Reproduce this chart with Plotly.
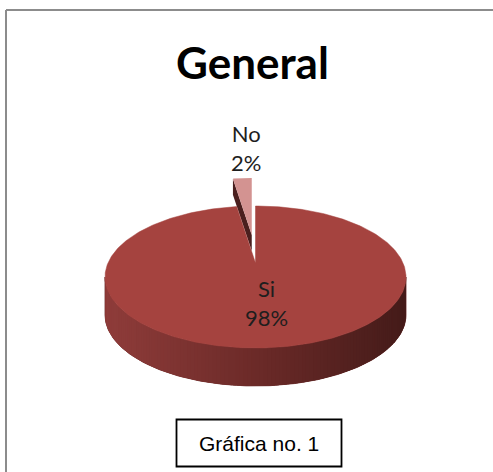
import numpy as np
import plotly.graph_objects as go

# Survey result: answer categories and their counts (percent)
labels = ["Si", "No"]
values = [98, 2]
title_text = "General"
caption_text = "Gráfica no. 1"

# Pie geometry in pixel space (3-D look: elliptical top face plus a side wall)
W, H = 493, 472
cx, cy = 255.5, 277.0      # centre of the top ellipse
a, b = 150.5, 71.0         # semi-axes of the top ellipse
depth = 38.0               # height of the side wall
apex_lift = 14.0           # perspective shift of the slice apex
explode = 0.394            # outward offset of the small slice (fraction of radius)
face_drop = 16.0           # visible drop of the exploded slice's cut face

top_colors = ["#A5433F", "#D39391"]
wall_left = np.array([143, 60, 58])
wall_mid = np.array([107, 42, 40])
wall_right = np.array([68, 27, 25])
cut_face_color = "#4A1F1E"
text_color = "#1E1E1E"

vals = np.array(values, dtype=float)
frac = vals / vals.sum()
ends = np.cumsum(frac) * 360.0
starts = ends - frac * 360.0
mids = (starts + ends) / 2.0


def rim(theta, ox=0.0, oy=0.0):
    t = np.radians(theta)
    return cx + ox + a * np.sin(t), cy + oy - b * np.cos(t)


def wall_color(x):
    t = np.clip((x - (cx - a)) / (2 * a), 0, 1)
    if t < 0.5:
        c = wall_left + (wall_mid - wall_left) * (t / 0.5)
    else:
        c = wall_mid + (wall_right - wall_mid) * ((t - 0.5) / 0.5)
    return "rgb({},{},{})".format(*[int(round(v)) for v in c])


fig = go.Figure()


def poly(xs, ys, color, lw=0.0):
    fig.add_trace(go.Scatter(
        x=list(xs) + [xs[0]], y=list(ys) + [ys[0]],
        mode="lines", fill="toself", fillcolor=color,
        line=dict(color=color, width=lw),
        hoverinfo="skip", showlegend=False,
    ))


# Exploded small slice (index 1), drawn first because it sits behind
i = 1
bis = np.radians(mids[i])
ox, oy = explode * a * np.sin(bis), -explode * b * np.cos(bis)
apx, apy = cx + ox, cy - apex_lift + oy
ex, ey = rim(starts[i], ox, oy)
poly([apx, ex, ex, apx], [apy, ey, ey + face_drop, apy + face_drop], cut_face_color)
th = np.linspace(starts[i], ends[i], 20)
rx, ry = rim(th, ox, oy)
poly([apx] + list(rx), [apy] + list(ry), top_colors[i])

# Main slice (index 0): front side wall with a left-to-right shading
i = 0
lo, hi = max(starts[i], 90.0), min(ends[i], 270.0)
# full wall underneath so the shaded strips leave no gaps
wt = np.linspace(lo, hi, 200)
wx, wy = rim(wt)
poly(list(wx) + list(wx[::-1]), list(wy) + list((wy + depth)[::-1]),
     wall_color(cx), lw=0.8)
edges = np.linspace(lo, hi, 121)
step = edges[1] - edges[0]
for t0, t1 in zip(edges[:-1], edges[1:]):
    ts = np.linspace(t0, min(t1 + 0.8 * step, hi), 4)
    sx, sy = rim(ts)
    col = wall_color(float(np.mean(sx)))
    poly(list(sx) + list(sx[::-1]), list(sy) + list((sy + depth)[::-1]), col)

# Main slice top face
th = np.linspace(starts[i], ends[i], 400)
rx, ry = rim(th)
poly([cx] + list(rx), [cy - apex_lift] + list(ry), top_colors[i], lw=0.5)

# Data labels: category name and percentage, placed along each slice bisector
label_radius = [0.37, 1.82]
label_shift = [7.0, 8.0]
for k in range(len(values)):
    tb = np.radians(mids[k])
    lx = cx + label_radius[k] * a * np.sin(tb) + label_shift[k]
    ly = cy - label_radius[k] * b * np.cos(tb)
    pct = "{:.0f}%".format(frac[k] * 100)
    fig.add_annotation(
        x=lx, y=ly, text=f"{labels[k]}<br>{pct}", showarrow=False,
        font=dict(family="Lato", size=22, color=text_color),
        align="center", xanchor="center", yanchor="middle",
    )

# Title
fig.add_annotation(
    x=252.5, y=62, text=f"<b>{title_text}</b>", showarrow=False,
    font=dict(family="Lato", size=44, color="#000000"),
    xanchor="center", yanchor="middle",
)

# Caption box below the chart
fig.add_shape(type="rect", x0=176.5, y0=419.5, x1=341.5, y1=466.5,
              line=dict(color="#000000", width=1.8), fillcolor="#FFFFFF")
fig.add_annotation(
    x=259, y=443, text=caption_text, showarrow=False,
    font=dict(family="Liberation Sans", size=21, color="#000000"),
    xanchor="center", yanchor="middle",
)

# Outer chart frame: only its left and top edges fall inside the page
frame = dict(color="#8C8C8C", width=2)
fig.add_shape(type="line", xref="paper", yref="paper",
              x0=6 / W, y0=1 - 10 / H, x1=1.0, y1=1 - 10 / H, line=frame)
fig.add_shape(type="line", xref="paper", yref="paper",
              x0=6 / W, y0=1 - 10 / H, x1=6 / W, y1=0.0, line=frame)

fig.update_layout(
    width=W, height=H,
    margin=dict(l=0, r=0, t=0, b=0),
    paper_bgcolor="#FFFFFF", plot_bgcolor="#FFFFFF",
    xaxis=dict(range=[0, W], visible=False, fixedrange=True),
    yaxis=dict(range=[H, 0], visible=False, fixedrange=True),
)

fig.write_html("out.html")
